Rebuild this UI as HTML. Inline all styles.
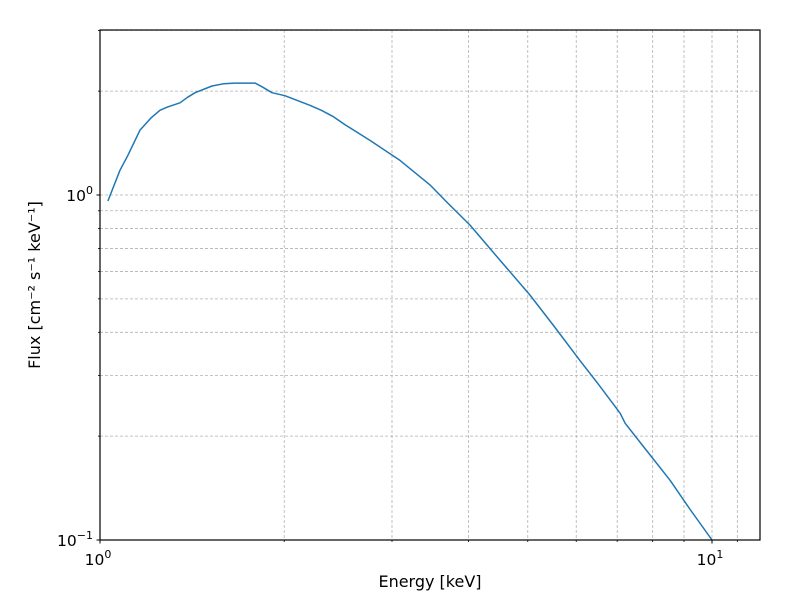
<!DOCTYPE html>
<html><head><meta charset="utf-8"><style>
body{margin:0;background:#fff}
svg{display:block;font-family:"DejaVu Sans","Liberation Sans",sans-serif}
</style></head><body>
<svg id="chart" width="800" height="600" viewBox="0 0 800 600">
<g id="grid"></g>
<path id="curve" fill="none" stroke="#1f77b4" stroke-width="1.5" stroke-linejoin="round"/>
<rect x="100" y="30" width="660" height="510" fill="none" stroke="#000" stroke-width="1.2"/>
<g id="ticks"></g>
<text x="430" y="587" font-size="16" text-anchor="middle">Energy [keV]</text>
<text transform="translate(40,285) rotate(-90)" font-size="16" text-anchor="middle">Flux [cm⁻² s⁻¹ keV⁻¹]</text>
</svg>
<script>
const energies=[1.03,1.078,1.11,1.162,1.21,1.253,1.29,1.351,1.39,1.43,1.524,1.59,1.662,1.792,1.839,1.91,2.005,2.1,2.203,2.3,2.402,2.513,2.762,3.092,3.461,3.7,4.02,4.5,5.04,5.5,6.08,6.5,7.08,7.21,7.7,8.54,9.2,10];
const fluxes=[0.961,1.18,1.30,1.54,1.67,1.76,1.80,1.85,1.92,1.98,2.07,2.10,2.11,2.11,2.06,1.98,1.94,1.88,1.82,1.76,1.69,1.60,1.44,1.26,1.07,0.948,0.819,0.648,0.513,0.42,0.332,0.285,0.233,0.218,0.188,0.149,0.123,0.1];
const xMajor=[1,10];
const xMinor=[2,3,4,5,6,7,8,9,11,12];
const yMajor=[0.1,1];
const yMinor=[0.2,0.3,0.4,0.5,0.6,0.7,0.8,0.9,2,3];
const xLabels=["10","10"],xExp=["0","1"],yLabels=["10","10"],yExp=["−1","0"];
const NS="http://www.w3.org/2000/svg";
function xs(v){return 100+612*Math.log10(v);}
function ys(v){return 195-345*Math.log10(v);}
const grid=document.getElementById('grid'),ticks=document.getElementById('ticks');
function line(g,x1,y1,x2,y2,stroke,w,dash){const l=document.createElementNS(NS,'line');
l.setAttribute('x1',x1);l.setAttribute('y1',y1);l.setAttribute('x2',x2);l.setAttribute('y2',y2);
l.setAttribute('stroke',stroke);l.setAttribute('stroke-width',w);if(dash)l.setAttribute('stroke-dasharray',dash);g.appendChild(l);return l;}
xMajor.concat(xMinor).forEach(v=>{const x=xs(v);if(x>100&&x<760){const l=line(grid,x,30,x,540,'#b0b0b0',0.8,'3,2');

}});
yMajor.concat(yMinor).forEach(v=>{const y=ys(v);if(y>30&&y<540){const l=line(grid,100,y,760,y,'#b0b0b0',0.8,'3,2');

}});
xMajor.forEach((v,i)=>{const x=xs(v);line(ticks,x,540,x,543.5,'#000',1);
const t=document.createElementNS(NS,'text');t.setAttribute('x',x-2);t.setAttribute('y',565);t.setAttribute('font-size','15.5');t.setAttribute('text-anchor','middle');
t.innerHTML=xLabels[i]+'<tspan dy="-7" font-size="11">'+xExp[i]+'</tspan>';


ticks.appendChild(t);});
xMinor.forEach(v=>{const x=xs(v);if(x<=760)line(ticks,x,540,x,542,'#000',0.8);});
yMajor.forEach((v,i)=>{const y=ys(v);line(ticks,96.5,y,100,y,'#000',1);
const t=document.createElementNS(NS,'text');t.setAttribute('x',93);t.setAttribute('y',y+6);t.setAttribute('font-size','15.5');t.setAttribute('text-anchor','end');
t.innerHTML=yLabels[i]+'<tspan dy="-7" font-size="11">'+yExp[i]+'</tspan>';


ticks.appendChild(t);});
yMinor.forEach(v=>{const y=ys(v);line(ticks,98,y,100,y,'#000',0.8);});
document.getElementById('curve').setAttribute('d',energies.map((e,i)=>(i?'L':'M')+xs(e).toFixed(1)+','+ys(fluxes[i]).toFixed(1)).join(''));
</script>
</body></html>
